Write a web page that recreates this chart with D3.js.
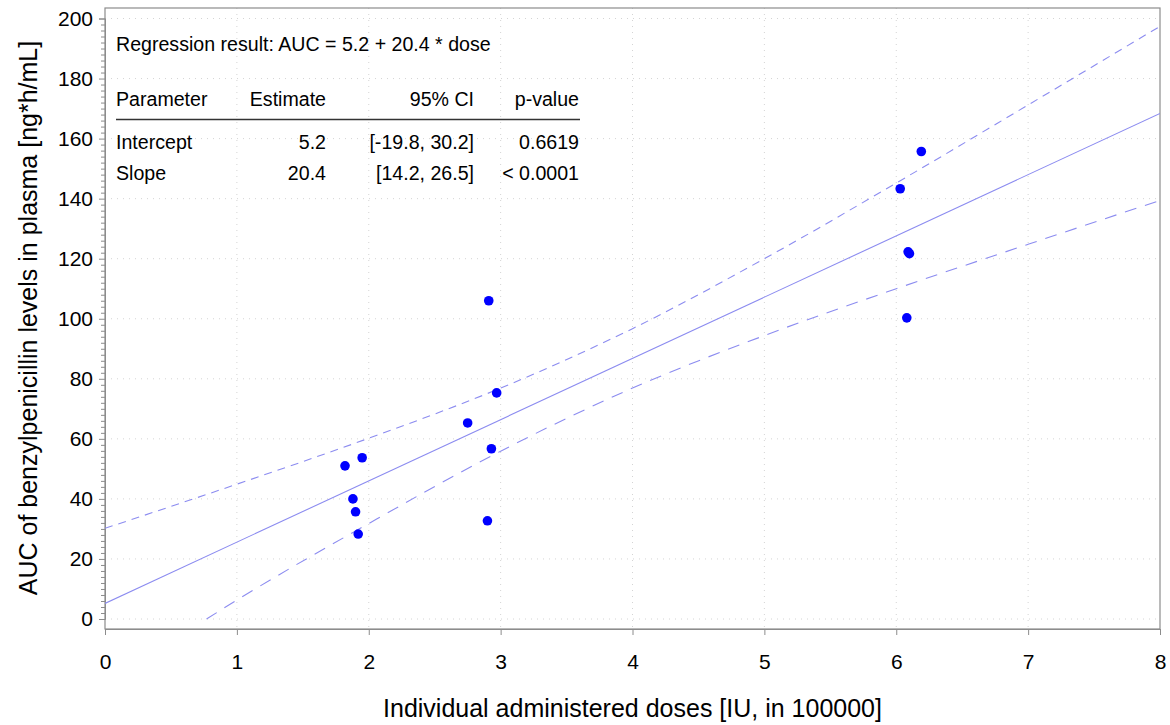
<!DOCTYPE html>
<html>
<head>
<meta charset="utf-8">
<script src="https://cdn.jsdelivr.net/npm/d3@7"></script>
<style>
  body { margin: 0; background: #fff; }
  svg { font-family: "Liberation Sans", Arial, sans-serif; }
</style>
</head>
<body>
<svg width="1170" height="725"></svg>
<script>
// observed doses (x 100000 IU) and AUC values
const doses = [1.82, 1.95, 1.88, 1.90, 1.92, 2.75, 2.91, 2.97, 2.93, 2.90, 6.03, 6.19, 6.09, 6.10, 6.08];
const aucs = [51.0, 53.7, 40.0, 35.7, 28.3, 65.3, 106.0, 75.3, 56.7, 32.7, 143.3, 155.7, 122.3, 121.7, 100.3];

// fitted line and 95% confidence band
const fitX = [0, 8];
const fitY = [5.2, 168.4];
const upperX = [0, 1, 2, 3, 4, 5, 6, 7, 8];
const upperY = [30.2, 44.9, 60.2, 76.9, 96.7, 120.0, 145.2, 171.2, 197.4];
const lowerX = [0.77, 1, 2, 3, 4, 5, 6, 7, 8];
const lowerY = [0.0, 6.3, 31.8, 55.9, 76.9, 94.4, 110.0, 124.8, 139.4];

const xTicks = [0, 1, 2, 3, 4, 5, 6, 7, 8];
const yTicks = [0, 20, 40, 60, 80, 100, 120, 140, 160, 180, 200];

const tableHeader = ["Parameter", "Estimate", "95% CI", "p-value"];
const tableRows = [
  ["Intercept", "5.2", "[-19.8, 30.2]", "0.6619"],
  ["Slope", "20.4", "[14.2, 26.5]", "< 0.0001"]
];

const svg = d3.select("svg");
const pL = 105, pR = 1160, pT = 8, pB = 629;

const x = d3.scaleLinear().domain([0, 8]).range([pL, pR]);
const y = d3.scaleLinear().domain([0, 200]).range([619, 18.5]);

// grid
svg.append("g").selectAll("line").data(xTicks.slice(1, -1)).join("line")
  .attr("x1", d => x(d)).attr("x2", d => x(d)).attr("y1", pT).attr("y2", pB)
  .attr("stroke", "#d4d4d4").attr("stroke-dasharray", "1,5");
svg.append("g").selectAll("line").data(yTicks).join("line")
  .attr("x1", pL).attr("x2", pR).attr("y1", d => y(d)).attr("y2", d => y(d))
  .attr("stroke", "#d4d4d4").attr("stroke-dasharray", "1,5");

// frame
svg.append("rect").attr("x", pL).attr("y", pT)
  .attr("width", pR - pL).attr("height", pB - pT)
  .attr("fill", "none").attr("stroke", "#8c8c8c").attr("stroke-width", 1.2);

// axes
svg.append("g").attr("transform", `translate(0,${pB})`)
  .call(d3.axisBottom(x).tickValues(xTicks).tickSize(6).tickPadding(19));
svg.append("g").attr("transform", `translate(${pL},0)`)
  .call(d3.axisLeft(y).tickValues(yTicks).tickSize(6).tickPadding(6));
svg.append("g").attr("transform", `translate(${pL},0)`)
  .call(d3.axisLeft(y).tickValues(d3.range(0, 201, 2).filter(v => v % 20 !== 0))
    .tickSize(4).tickFormat(""))
  .call(g => g.select(".domain").remove());
svg.selectAll(".domain").attr("stroke", "#8c8c8c");
svg.selectAll(".tick line").attr("stroke", "#8c8c8c");
svg.selectAll(".tick text").attr("font-size", 21).attr("fill", "#000")
  .attr("font-family", "Liberation Sans, Arial, sans-serif");

// axis labels
svg.append("text").attr("x", (pL + pR) / 2).attr("y", 717)
  .attr("text-anchor", "middle").attr("font-size", 25)
  .text("Individual administered doses [IU, in 100000]");
svg.append("text").attr("transform", `translate(37,318) rotate(-90)`)
  .attr("text-anchor", "middle").attr("font-size", 25)
  .text("AUC of benzylpenicillin levels in plasma [ng*h/mL]");

// lines
svg.append("clipPath").attr("id", "plotclip").append("rect")
  .attr("x", pL).attr("y", pT).attr("width", pR - pL).attr("height", pB - pT);
const lineColor = "#8c8cf0";
const line = d3.line().x(d => x(d[0])).y(d => y(d[1])).curve(d3.curveMonotoneX);
const plot = svg.append("g").attr("clip-path", "url(#plotclip)");
plot.append("path").attr("d", line(d3.zip(fitX, fitY)))
  .attr("fill", "none").attr("stroke", lineColor).attr("stroke-width", 1.1);
plot.append("path").attr("d", line(d3.zip(upperX, upperY)))
  .attr("fill", "none").attr("stroke", lineColor).attr("stroke-width", 1.1)
  .attr("stroke-dasharray", "8,6");
plot.append("path").attr("d", line(d3.zip(lowerX, lowerY)))
  .attr("fill", "none").attr("stroke", lineColor).attr("stroke-width", 1.1)
  .attr("stroke-dasharray", "12,9");

// points
plot.selectAll("circle").data(d3.zip(doses, aucs)).join("circle")
  .attr("cx", d => x(d[0])).attr("cy", d => y(d[1])).attr("r", 4.8)
  .attr("fill", "#0000ff");

// regression table
const tbl = svg.append("g").attr("font-size", 19.6).attr("fill", "#000");
tbl.append("text").attr("x", 116).attr("y", 51)
  .text("Regression result: AUC = 5.2 + 20.4 * dose");
const colX = [116, 326, 474, 579];
const colAnchor = ["start", "end", "end", "end"];
tbl.selectAll(".hdr").data(tableHeader).join("text").attr("class", "hdr")
  .attr("x", (d, i) => colX[i]).attr("y", 106)
  .attr("text-anchor", (d, i) => colAnchor[i]).text(d => d);
tbl.append("line").attr("x1", 116).attr("x2", 580).attr("y1", 119.5).attr("y2", 119.5)
  .attr("stroke", "#333").attr("stroke-width", 1.5);
tableRows.forEach((row, r) => {
  tbl.selectAll(".row" + r).data(row).join("text").attr("class", "row" + r)
    .attr("x", (d, i) => colX[i]).attr("y", 149 + r * 31)
    .attr("text-anchor", (d, i) => colAnchor[i]).text(d => d);
});
</script>
</body>
</html>
